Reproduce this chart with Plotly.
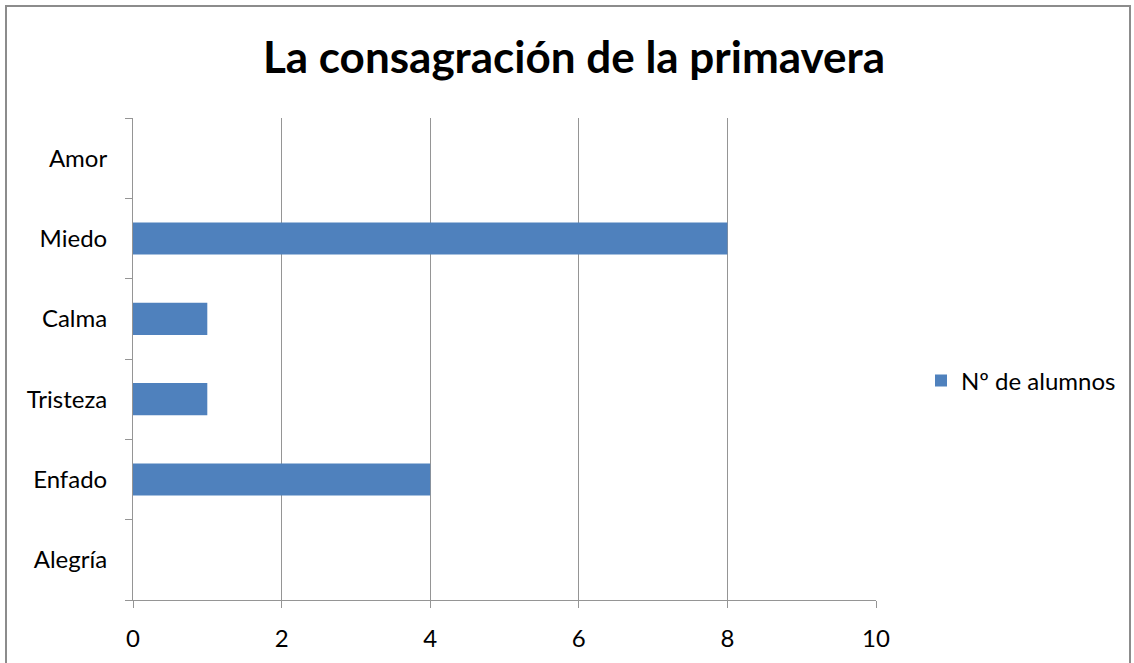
import plotly.graph_objects as go

categories = ["Alegría", "Enfado", "Tristeza", "Calma", "Miedo", "Amor"]
values = [0, 4, 1, 1, 8, 0]
series_name = "Nº de alumnos"
title_text = "La consagración de la primavera"
x_ticks = [0, 2, 4, 6, 8, 10]

W, H = 1134, 663
L, R, T, B = 133, 258, 118, 63
pw, ph = W - L - R, H - T - B

def px_x(p):
    return (p - L) / pw

def px_y(p):
    return (H - B - p) / ph

FONT = "Lato"
GRID = "#959595"

fig = go.Figure()
fig.add_trace(go.Bar(
    y=categories, x=values, orientation="h", name=series_name,
    marker=dict(color="#4F81BD", line=dict(width=0)), width=0.4,
    showlegend=True,
))

fig.update_layout(
    width=W, height=H,
    margin=dict(l=L, r=R, t=T, b=B),
    paper_bgcolor="white", plot_bgcolor="white",
    font=dict(family=FONT, size=24, color="#000000"),
    title=dict(text="<b>" + title_text + "</b>", x=574 / W, xanchor="center",
               y=1 - 58 / H, yanchor="middle", font=dict(family=FONT, size=44, color="#000000")),
    showlegend=True,
    legend=dict(x=px_x(921), xanchor="left", y=px_y(381), yanchor="middle",
                font=dict(family=FONT, size=24), bgcolor="rgba(0,0,0,0)",
                itemwidth=30),
    bargap=0.6,
    xaxis=dict(range=[0, 10], tickvals=x_ticks, showgrid=True, gridcolor=GRID, gridwidth=1,
               showline=True, linecolor=GRID, linewidth=1, ticks="outside", ticklen=7,
               tickcolor=GRID, zeroline=False, fixedrange=True,
               tickfont=dict(family=FONT, size=24), ticklabelstandoff=10),
    yaxis=dict(type="category", categoryorder="array", categoryarray=categories,
               showline=True, linecolor=GRID, linewidth=1, ticks="outside", ticklen=7,
               tickcolor=GRID, tickson="boundaries", showgrid=False, fixedrange=True,
               tickfont=dict(family=FONT, size=24), ticklabelstandoff=20),
    shapes=[dict(type="rect", xref="paper", yref="paper",
                 x0=px_x(6), x1=px_x(1130), y0=px_y(680), y1=px_y(6),
                 line=dict(color="#8C8C8C", width=2), fillcolor="rgba(0,0,0,0)", layer="below")],
)

fig.write_html("out.html", config={"displayModeBar": False},
               post_script="document.body.style.margin='0';document.body.style.overflow='hidden';")
